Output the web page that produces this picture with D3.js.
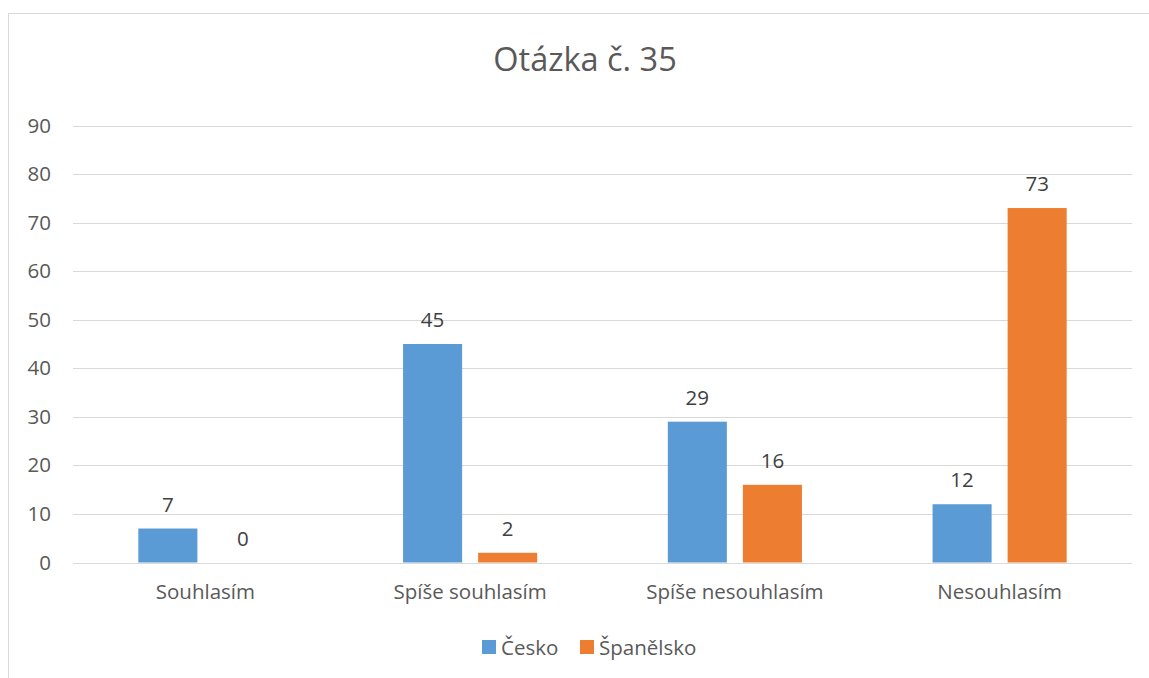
<!DOCTYPE html>
<html>
<head>
<meta charset="utf-8">
<script src="https://cdn.jsdelivr.net/npm/d3@7"></script>
<style>
  body { margin: 0; background: #fff; }
  svg { display: block; font-family: "Open Sans", "Noto Sans", sans-serif; }
</style>
</head>
<body>
<div id="chart"></div>
<script>
// chart data
const categories = ["Souhlasím", "Spíše souhlasím", "Spíše nesouhlasím", "Nesouhlasím"];
const seriesNames = ["Česko", "Španělsko"];
const ceskoValues = [7, 45, 29, 12];
const spanelskoValues = [0, 2, 16, 73];
const yTicks = [0, 10, 20, 30, 40, 50, 60, 70, 80, 90];
const colors = ["#5B9BD5", "#ED7D31"];

const width = 1149, height = 678;
const plot = { left: 73, right: 1132, top: 125.5, bottom: 562.5 };
const fontSize = "20.5px";

const svg = d3.select("#chart").append("svg")
  .attr("width", width)
  .attr("height", height);

// outer chart border
svg.append("rect")
  .attr("x", 8.5).attr("y", 13.5)
  .attr("width", 1160).attr("height", 700)
  .attr("fill", "none")
  .attr("stroke", "#D9D9D9");

// title
svg.append("text")
  .attr("x", 585).attr("y", 71)
  .attr("text-anchor", "middle")
  .attr("fill", "#595959")
  .style("font-size", "32.5px")
  .text("Otázka č. 35");

const y = d3.scaleLinear().domain([0, 90]).range([plot.bottom, plot.top]);
const x0 = d3.scaleBand().domain(categories).range([plot.left, plot.right]).padding(0);
const x1 = d3.scaleBand().domain(seriesNames)
  .range([0, x0.bandwidth()])
  .paddingInner(16 / 75)
  .paddingOuter(0.87);

// gridlines
svg.append("g")
  .selectAll("line")
  .data(yTicks)
  .join("line")
  .attr("x1", plot.left).attr("x2", plot.right)
  .attr("y1", d => Math.round(y(d)) + 0.5)
  .attr("y2", d => Math.round(y(d)) + 0.5)
  .attr("stroke", "#D9D9D9")
  .attr("stroke-width", 1);

// y axis labels
const yAxis = svg.append("g")
  .attr("transform", "translate(" + (plot.left - 22) + ",0)")
  .call(d3.axisLeft(y).tickValues(yTicks).tickSize(0).tickPadding(0));
yAxis.select(".domain").remove();
yAxis.selectAll("text")
  .attr("fill", "#595959")
  .style("font-size", fontSize)
  .style("font-family", "\"Open Sans\", sans-serif");

// x axis labels
const xAxis = svg.append("g")
  .attr("transform", "translate(0," + plot.bottom + ")")
  .call(d3.axisBottom(x0).tickSize(0).tickPadding(22));
xAxis.select(".domain").remove();
xAxis.selectAll("text")
  .attr("fill", "#595959")
  .style("font-size", fontSize)
  .style("font-family", "\"Open Sans\", sans-serif");

// bars
const rows = categories.map((c, i) => ({
  category: c,
  values: [
    { name: seriesNames[0], value: ceskoValues[i], color: colors[0] },
    { name: seriesNames[1], value: spanelskoValues[i], color: colors[1] }
  ]
}));

const groups = svg.append("g")
  .selectAll("g")
  .data(rows)
  .join("g")
  .attr("transform", d => "translate(" + x0(d.category) + ",0)");

groups.selectAll("rect")
  .data(d => d.values)
  .join("rect")
  .attr("x", d => x1(d.name))
  .attr("y", d => y(d.value))
  .attr("width", x1.bandwidth())
  .attr("height", d => y(0) - y(d.value))
  .attr("fill", d => d.color);

groups.selectAll("text")
  .data(d => d.values)
  .join("text")
  .attr("x", d => x1(d.name) + x1.bandwidth() / 2)
  .attr("y", d => y(d.value) - 17)
  .attr("text-anchor", "middle")
  .attr("fill", "#404040")
  .style("font-size", fontSize)
  .text(d => d.value);

// legend
const legend = svg.append("g")
  .selectAll("g")
  .data(seriesNames)
  .join("g")
  .attr("transform", (d, i) => "translate(" + (482 + i * 98) + ",640)");

legend.append("rect")
  .attr("width", 14).attr("height", 14)
  .attr("fill", (d, i) => colors[i]);

legend.append("text")
  .attr("x", 19).attr("y", 14.5)
  .attr("fill", "#595959")
  .style("font-size", fontSize)
  .text(d => d);
</script>
</body>
</html>
